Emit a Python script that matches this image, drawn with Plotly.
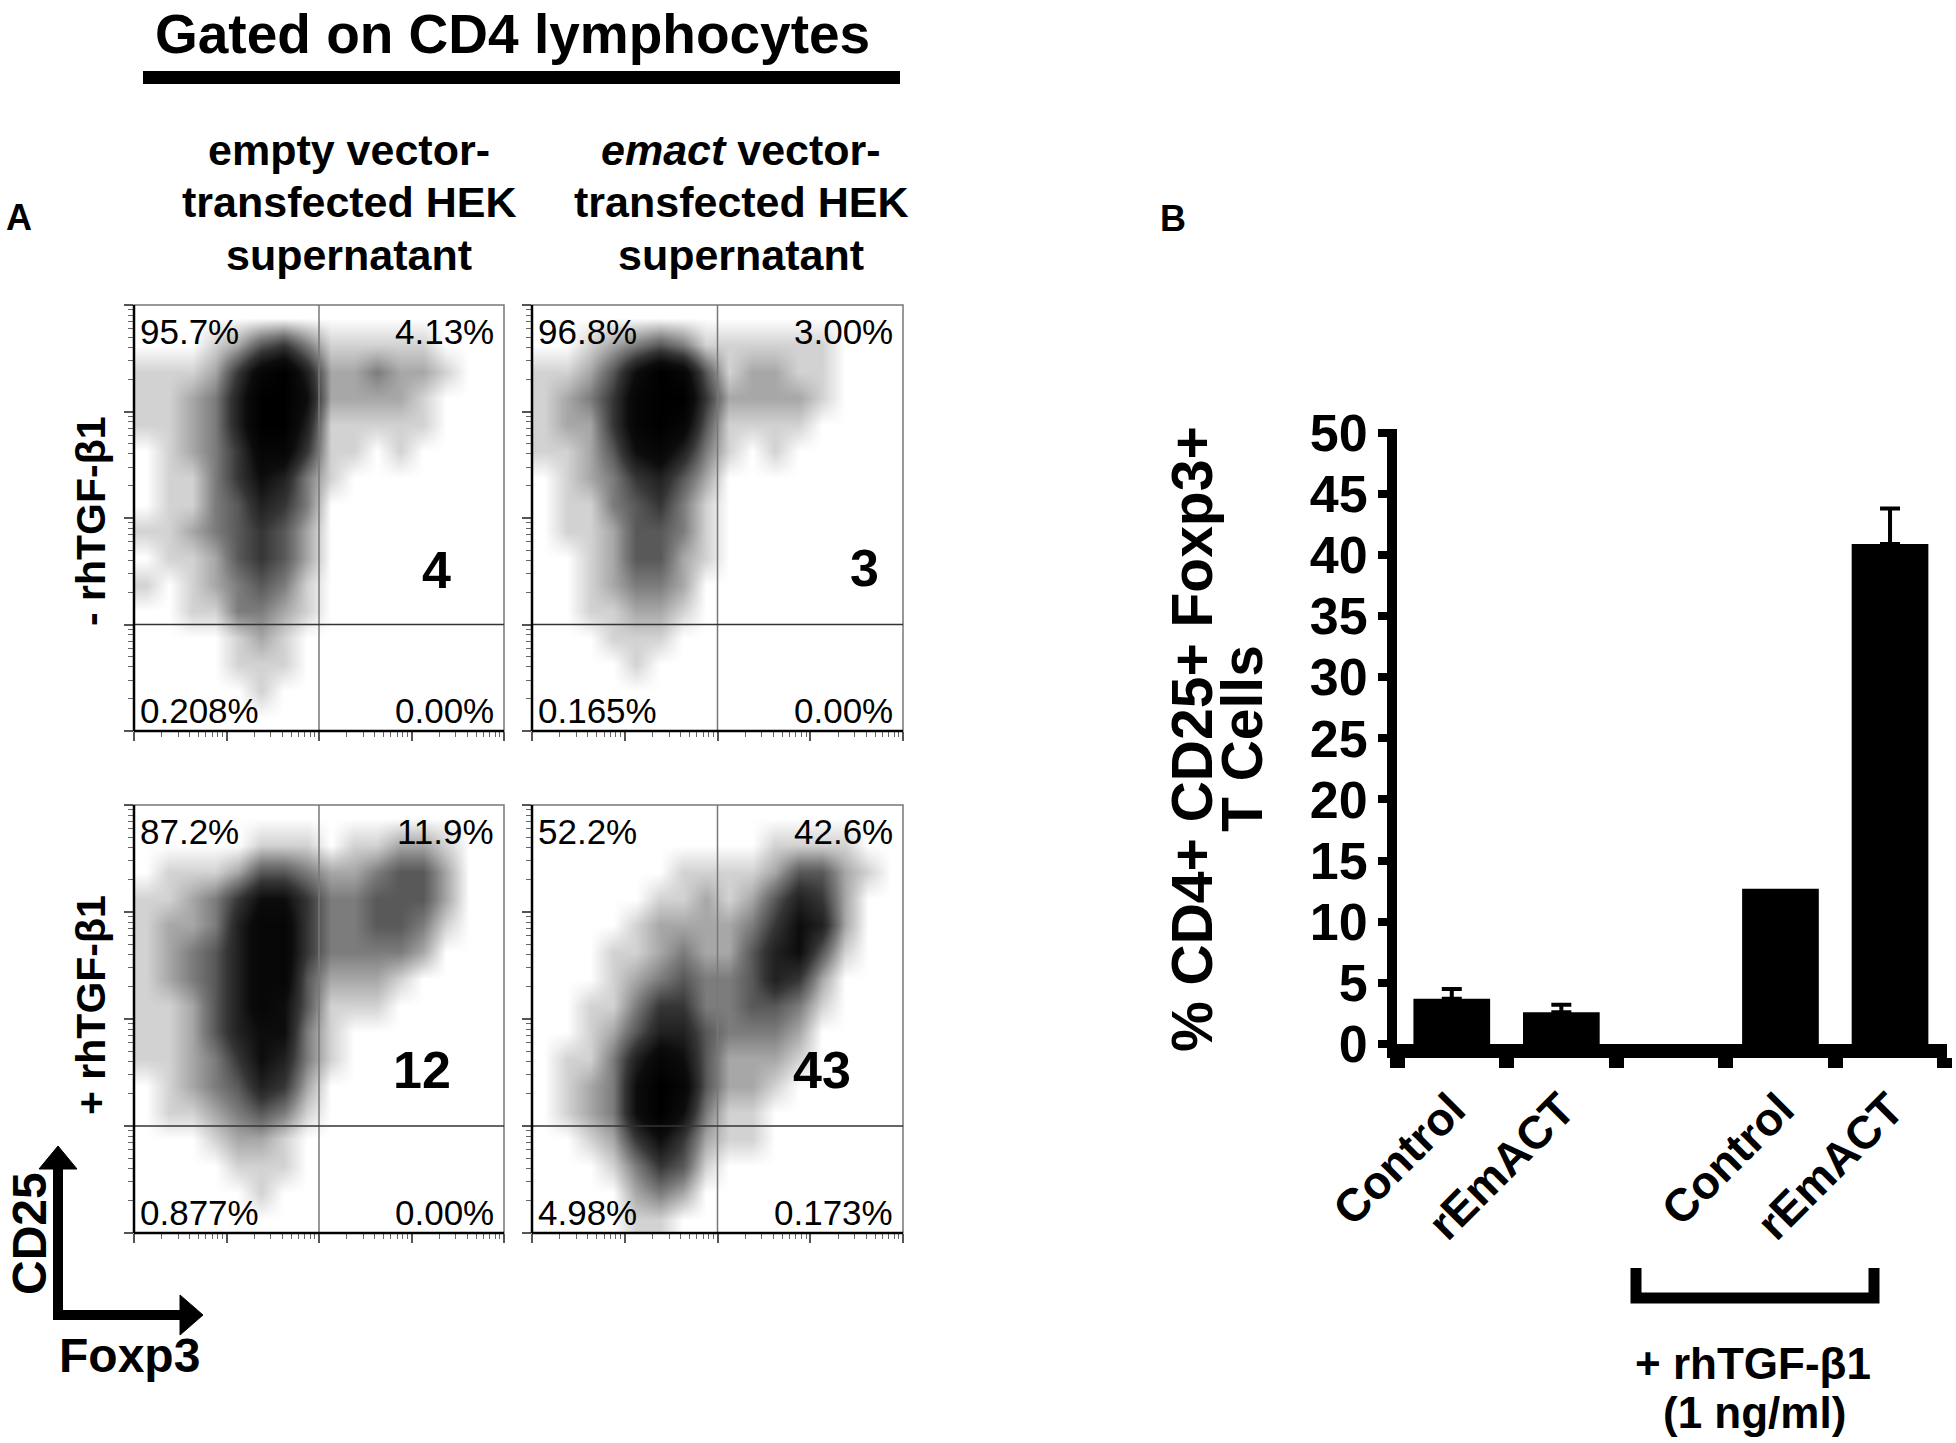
import numpy as np
import plotly.graph_objects as go

W, H = 1956, 1443
FONT = "Liberation Sans, Arial, sans-serif"

# Dot-plot densities (0 = empty ... 9 = solid black).
# 16 x 16 cells of a quarter decade each; the first string is the top row.
DENS_TL = [
    "0000000000000000",
    "0001245311111000",
    "1112589622322100",
    "1123699722221000",
    "1123699611111000",
    "0123588511010000",
    "0113576310000000",
    "0113465300000000",
    "1123454200000000",
    "0112454200000000",
    "1012343100000000",
    "0011332100000000",
    "0000121000000000",
    "0000111000000000",
    "0000010000000000",
    "0000000000000000",
]
DENS_TR = [
    "0000000000000000",
    "0012343111111000",
    "1124798412211000",
    "1235899522221000",
    "1225898411110000",
    "1124786310100000",
    "0123564200000000",
    "0113453100000000",
    "0112443100000000",
    "0012442100000000",
    "0012332000000000",
    "0011221000000000",
    "0001110000000000",
    "0000100000000000",
    "0000000000000000",
    "0000000000000000",
]
DENS_BL = [
    "0000000000000000",
    "0000011101122100",
    "0111244322344200",
    "1123577533444200",
    "1223688533443100",
    "1234688533332000",
    "1234688422210000",
    "1124687411100000",
    "1124677310000000",
    "1123576310000000",
    "0123465200000000",
    "0112343100000000",
    "0001221000000000",
    "0000111000000000",
    "0000010000000000",
    "0000000000000000",
]
DENS_BR = [
    "0000000000000000",
    "0000000000111100",
    "0000001111244210",
    "0000011212465200",
    "0000122223576200",
    "0001123224674100",
    "0001234334652000",
    "0011355334431000",
    "0012466433320000",
    "0113687422210000",
    "0123798422100000",
    "0123797311000000",
    "0012575211000000",
    "0001354100000000",
    "0000232000000000",
    "0000110000000000",
]

# quadrant frequencies: upper-left, upper-right, lower-left, lower-right
QUAD_TL = ["95.7%", "4.13%", "0.208%", "0.00%"]
QUAD_TR = ["96.8%", "3.00%", "0.165%", "0.00%"]
QUAD_BL = ["87.2%", "11.9%", "0.877%", "0.00%"]
QUAD_BR = ["52.2%", "42.6%", "4.98%", "0.173%"]
TREG_ROUNDED = ["4", "3", "12", "43"]

GATE_X = 2.0  # Foxp3 gate, decades
GATE_Y = 1.0  # CD25 gate, decades

# panel B
BAR_LABELS = ["Control", "rEmACT", "", "Control", "rEmACT"]
BAR_VALUES = [3.7, 2.6, None, 12.7, 40.9]
BAR_ERRORS = [0.8, 0.6, None, None, 2.9]
Y_TICKS = [0, 5, 10, 15, 20, 25, 30, 35, 40, 45, 50]

# pixel boxes of the four dot plots (left, top, right, bottom)
BOXES = [(134, 305, 504, 731), (532, 305, 903, 731),
         (134, 805, 504, 1233), (532, 805, 903, 1233)]
BIG_POS = [(436, 570), (864, 568), (422, 1070), (822, 1070)]

GRAYS = [[0.0, "#ffffff"], [0.111, "#d2d2d2"], [0.333, "#7c7c7c"],
         [0.556, "#353535"], [0.778, "#0c0c0c"], [1.0, "#000000"]]


def fx(x):
    return x / W


def fy(y):
    return 1 - y / H


def ann(text, x, y, size, bold=True, xa="center", ya="middle", angle=0):
    return dict(xref="paper", yref="paper", x=fx(x), y=fy(y), text=text,
                showarrow=False, xanchor=xa, yanchor=ya, textangle=angle,
                font=dict(family=FONT, size=size, color="black",
                          weight="bold" if bold else "normal"))


def grid(rows):
    z = np.array([[int(c) for c in r] for r in rows], dtype=float)
    return z[::-1]


fig = go.Figure()
layout = {}
shapes = []
annotations = []

centers = np.arange(16) * 0.25 + 0.125
minor_vals = [k + np.log10(m) for k in range(4) for m in range(2, 10)]

dens = [DENS_TL, DENS_TR, DENS_BL, DENS_BR]
quads = [QUAD_TL, QUAD_TR, QUAD_BL, QUAD_BR]

for i, box in enumerate(BOXES):
    n = i + 1
    xs = "x" if n == 1 else f"x{n}"
    ys = "y" if n == 1 else f"y{n}"
    l, t, r, b = box
    fig.add_trace(go.Heatmap(
        z=grid(dens[i]), x=centers, y=centers, xaxis=xs, yaxis=ys,
        colorscale=GRAYS, zmin=0, zmax=9, zsmooth="best",
        showscale=False, hoverinfo="skip",
    ))
    common = dict(range=[0, 4], showgrid=False, zeroline=False, showline=False,
                  showticklabels=False, ticks="outside", tickvals=[0, 1, 2, 3, 4],
                  ticklen=9, tickwidth=1.5, tickcolor="#555", automargin=False,
                  minor=dict(tickmode="array", tickvals=minor_vals, ticks="outside",
                             ticklen=5, tickwidth=1.2, tickcolor="#666"))
    layout[f"xaxis{'' if n == 1 else n}"] = dict(common, domain=[fx(l), fx(r)], anchor=ys)
    layout[f"yaxis{'' if n == 1 else n}"] = dict(common, domain=[fy(b), fy(t)], anchor=xs)

    xd, yd = f"{xs} domain", f"{ys} domain"
    shapes.append(dict(type="rect", xref=xd, yref=yd, x0=0, x1=1, y0=0, y1=1,
                       line=dict(color="#777", width=1.5)))
    shapes.append(dict(type="line", xref=xs, yref=yd, x0=GATE_X, x1=GATE_X, y0=0, y1=1,
                       line=dict(color="#777", width=1.5)))
    shapes.append(dict(type="line", xref=xd, yref=ys, x0=0, x1=1, y0=GATE_Y, y1=GATE_Y,
                       line=dict(color="#333", width=1.5)))
    shapes.append(dict(type="line", xref=xd, yref=yd, x0=0, x1=0, y0=0, y1=1,
                       line=dict(color="black", width=2.5)))
    shapes.append(dict(type="line", xref=xd, yref=yd, x0=0, x1=1, y0=0, y1=0,
                       line=dict(color="black", width=2.5)))

    q = quads[i]
    annotations.append(ann(q[0], l + 4, t + 26, 35, bold=False, xa="left"))
    annotations.append(ann(q[1], r - 8, t + 26, 35, bold=False, xa="right"))
    annotations.append(ann(q[2], l + 4, b - 21, 35, bold=False, xa="left"))
    annotations.append(ann(q[3], r - 8, b - 21, 35, bold=False, xa="right"))
    bx, by = BIG_POS[i]
    annotations.append(ann(TREG_ROUNDED[i], bx, by, 52))

# panel B bar chart
cats = list(range(len(BAR_LABELS)))
fig.add_trace(go.Bar(
    x=cats, y=BAR_VALUES, xaxis="x5", yaxis="y5", width=0.7,
    marker=dict(color="black", line=dict(width=0)), hoverinfo="skip",
))
err_idx = [k for k, e in enumerate(BAR_ERRORS) if e]
fig.add_trace(go.Scatter(
    x=[cats[k] for k in err_idx], y=[BAR_VALUES[k] for k in err_idx],
    xaxis="x5", yaxis="y5", mode="markers", marker=dict(size=1, color="black"),
    error_y=dict(type="data", symmetric=False, array=[BAR_ERRORS[k] for k in err_idx],
                 arrayminus=[0] * len(err_idx), color="black", thickness=4, width=10),
    hoverinfo="skip",
))
layout["xaxis5"] = dict(
    domain=[fx(1397), fx(1947)], anchor="y5", range=[-0.5, 4.52],
    tickmode="array", tickvals=cats, ticktext=BAR_LABELS, tickangle=-45,
    ticks="", showgrid=False, zeroline=False, automargin=False,
    showline=True, linecolor="black", linewidth=14,
    tickfont=dict(family=FONT, size=46, color="black", weight="bold"),
    minor=dict(tickmode="array", tickvals=[c - 0.5 for c in cats] + [cats[-1] + 0.5],
               ticks="outside", ticklen=10, tickwidth=15, tickcolor="black"),
    ticklabelstandoff=6,
)
layout["yaxis5"] = dict(
    domain=[fy(1044), fy(429)], anchor="x5", range=[0, 50.3],
    tickmode="array", tickvals=Y_TICKS, ticks="outside", ticklen=9,
    tickwidth=8, tickcolor="black", showgrid=False, zeroline=False,
    showline=True, linecolor="black", linewidth=10, automargin=False,
    tickfont=dict(family=FONT, size=52, color="black", weight="bold"),
    ticklabelstandoff=0,
)

# bracket under the TGF-treated bars
bracket = [(1636, 1268), (1636, 1298), (1874, 1298), (1874, 1268)]
shapes.append(dict(type="path", xref="paper", yref="paper",
                   path="M " + " L ".join(f"{fx(x)},{fy(y)}" for x, y in bracket),
                   line=dict(color="black", width=11)))

# title bar
shapes.append(dict(type="rect", xref="paper", yref="paper",
                   x0=fx(143), x1=fx(900), y0=fy(84), y1=fy(71),
                   fillcolor="black", line=dict(width=0)))

# CD25 / Foxp3 axis key
shapes.append(dict(type="line", xref="paper", yref="paper", x0=fx(58), x1=fx(58),
                   y0=fy(1320), y1=fy(1166), line=dict(color="black", width=10)))
shapes.append(dict(type="line", xref="paper", yref="paper", x0=fx(53), x1=fx(182),
                   y0=fy(1315), y1=fy(1315), line=dict(color="black", width=10)))
for tri in ([(39, 1169), (77, 1169), (58, 1146)], [(180, 1295), (180, 1335), (203, 1315)]):
    shapes.append(dict(type="path", xref="paper", yref="paper",
                       path="M " + " L ".join(f"{fx(x)},{fy(y)}" for x, y in tri) + " Z",
                       fillcolor="black", line=dict(color="black", width=1)))

annotations += [
    ann("Gated on CD4 lymphocytes", 512, 1, 55, ya="top"),
    ann("A", 19, 217, 36),
    ann("B", 1173, 218, 36),
    ann("empty vector-", 349, 150, 43),
    ann("transfected HEK", 349, 202, 43),
    ann("supernatant", 349, 255, 43),
    ann("<i>emact</i> vector-", 741, 150, 43),
    ann("transfected HEK", 741, 202, 43),
    ann("supernatant", 741, 255, 43),
    ann("- rhTGF-β1", 91, 521, 41, angle=-90),
    ann("+ rhTGF-β1", 91, 1005, 41, angle=-90),
    ann("CD25", 29, 1234, 48, angle=-90),
    ann("Foxp3", 129, 1355, 48),
    ann("% CD4+ CD25+ Foxp3+", 1192, 739, 57, angle=-90),
    ann("T Cells", 1242, 739, 57, angle=-90),
    ann("+ rhTGF-β1", 1753, 1363, 44),
    ann("(1 ng/ml)", 1754, 1412, 44),
]

fig.update_layout(
    width=W, height=H, margin=dict(l=0, r=0, t=0, b=0, autoexpand=False),
    paper_bgcolor="white", plot_bgcolor="white", showlegend=False,
    shapes=shapes, annotations=annotations, **layout,
)
fig.write_html("out.html", config={"displayModeBar": False},
               post_script="document.body.style.margin = '0';")
